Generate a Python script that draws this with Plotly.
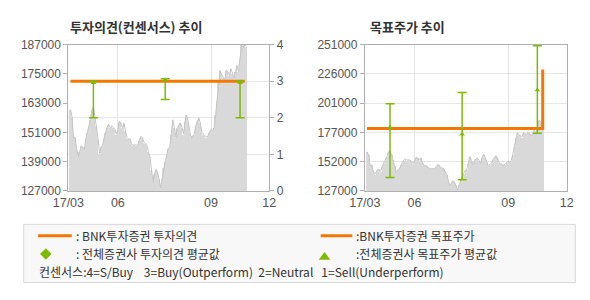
import plotly.graph_objects as go

# ---------------- data ----------------
price = [160400, 157500, 148500, 149000, 144500, 141000, 143100, 145500, 145100, 143800,
         148400, 151000, 153000, 156200, 160200, 161500, 157500, 153600, 148400, 142500,
         145100, 145700, 149000, 151000, 153000, 154300, 153000, 153600, 153000, 152300,
         150300, 152300, 155600, 154900, 153000, 154900, 151600, 149000, 148400, 148400,
         146400, 145700, 146000, 145700, 145700, 147700, 149400, 149000, 147000, 146600,
         145700, 143100, 141000, 135900, 130700, 134000, 135900, 134600, 132000, 128100,
         132000, 136600, 139200, 141800, 144500, 145100, 150300, 156200, 153000, 149000,
         153000, 154300, 154900, 153000, 150300, 155600, 158200, 155600, 151000, 148400,
         149700, 150300, 153600, 155600, 156900, 154900, 151000, 150300, 149700, 149000,
         149700, 151000, 152300, 151600, 153000, 158200, 164100, 172000, 176500, 174600,
         173300, 172600, 176500, 175900, 174600, 177200, 175200, 173300, 175900, 178500,
         175900, 181100, 187000, 185700, 187000, 186300]
day_idx = list(range(len(price)))

month_labels = ["17/03", "06", "09", "12"]
month_pos = [-1.4, 31.0, 92.0, 130.1]

# consensus (opinion) of all brokers
cons_x = [15, 62, 111]
cons_max = [3.0, 3.07, 3.0]
cons_mean = [2.96, 3.04, 2.96]
cons_min = [2.0, 2.5, 2.0]

# BNK opinion
bnk_op_x = [0, 114]
bnk_op = [3, 3]

# target price of all brokers
tgt_max = [201000, 210500, 250000]
tgt_mean = [181000, 175000, 212500]
tgt_min = [138500, 136500, 176000]

# BNK target price
bnk_tgt_x = [0, 114.5]
bnk_tgt = [180000, 230000]

left_price_ticks = [127000, 139000, 151000, 163000, 175000, 187000]
left_price_labels = ["127000", "139000", "151000", "163000", "175000", "187000"]
right_price_ticks = [127000, 151800, 176600, 201400, 226200, 251000]
right_price_labels = ["127000", "152000", "177000", "201000", "226000", "251000"]

# ---------------- styling ----------------
ORANGE = "#f47800"
GREEN = "#7dbb00"
BAR = "#d9d9d9"
LINE = "#c4c4c4"
AXIS = "#b0b0b0"
GRID = "#e6e6e6"
W, H = 590, 300
TICKFONT = dict(family="Liberation Sans, Arial, sans-serif", size=12, color="#555555")
KFONT = "Noto Sans CJK KR, sans-serif"


def px(x):
    return x / W


def py(y):
    return 1 - y / H


fig = go.Figure()

# ---- left chart: price + consensus ----
fig.add_trace(go.Bar(x=day_idx, y=price, marker=dict(color=BAR, line=dict(width=0)),
                     width=0.45, xaxis="x", yaxis="y", hoverinfo="skip"))
fig.add_trace(go.Scatter(x=day_idx, y=price, mode="lines", line=dict(color=LINE, width=1),
                         xaxis="x", yaxis="y", hoverinfo="skip"))
fig.add_trace(go.Scatter(x=bnk_op_x, y=bnk_op, mode="lines", line=dict(color=ORANGE, width=3),
                         xaxis="x", yaxis="y3"))
fig.add_trace(go.Scatter(
    x=cons_x, y=cons_mean, mode="markers",
    marker=dict(symbol="triangle-up", size=5, color=GREEN),
    error_y=dict(type="data", symmetric=False,
                 array=[a - m for a, m in zip(cons_max, cons_mean)],
                 arrayminus=[m - b for m, b in zip(cons_mean, cons_min)],
                 color=GREEN, thickness=1.5, width=4.5),
    xaxis="x", yaxis="y3"))

# ---- right chart: price + target ----
fig.add_trace(go.Bar(x=day_idx, y=price, marker=dict(color=BAR, line=dict(width=0)),
                     width=0.45, xaxis="x2", yaxis="y2", hoverinfo="skip"))
fig.add_trace(go.Scatter(x=day_idx, y=price, mode="lines", line=dict(color=LINE, width=1),
                         xaxis="x2", yaxis="y2", hoverinfo="skip"))
fig.add_trace(go.Scatter(x=bnk_tgt_x, y=bnk_tgt, mode="lines", line=dict(color=ORANGE, width=3, shape="hv"),
                         xaxis="x2", yaxis="y2"))
fig.add_trace(go.Scatter(
    x=cons_x, y=tgt_mean, mode="markers",
    marker=dict(symbol="triangle-up", size=5, color=GREEN),
    error_y=dict(type="data", symmetric=False,
                 array=[a - m for a, m in zip(tgt_max, tgt_mean)],
                 arrayminus=[m - b for m, b in zip(tgt_mean, tgt_min)],
                 color=GREEN, thickness=1.5, width=4.5),
    xaxis="x2", yaxis="y2"))

ydom = [py(193), py(39.5)]
xcommon = dict(range=[month_pos[0], month_pos[-1]], tickvals=month_pos, ticktext=month_labels,
               showgrid=True, gridcolor=GRID, gridwidth=1, showline=True, linecolor=AXIS,
               mirror=True, ticks="", tickfont=dict(TICKFONT, size=12.5), zeroline=False)
ycommon = dict(showline=True, linecolor=AXIS, ticks="outside", ticklen=4, tickcolor=AXIS,
               tickfont=TICKFONT, zeroline=False)

fig.update_layout(
    width=W, height=H, margin=dict(l=0, r=0, t=0, b=0),
    paper_bgcolor="white", plot_bgcolor="white", showlegend=False, bargap=0,
    xaxis=dict(xcommon, domain=[px(54.5), px(263.5)], anchor="y"),
    yaxis=dict(ycommon, domain=ydom, range=[127000, 187000], tickvals=left_price_ticks,
               ticktext=left_price_labels, showgrid=False, anchor="x"),
    yaxis3=dict(ycommon, overlaying="y", side="right", range=[0, 4], tickvals=[0, 1, 2, 3, 4],
                showgrid=True, gridcolor=GRID, anchor="x"),
    xaxis2=dict(xcommon, domain=[px(363), px(573)], anchor="y2"),
    yaxis2=dict(ycommon, domain=ydom, range=[127000, 251000], tickvals=right_price_ticks,
                ticktext=right_price_labels, showgrid=True, gridcolor=GRID, mirror=True, anchor="x2"),
)

annotations = [
    dict(text="<b>투자의견(컨센서스) 추이</b>", x=px(54), y=py(20)),
    dict(text="<b>목표주가 추이</b>", x=px(366), y=py(20)),
]
for a in annotations:
    a.update(xref="paper", yref="paper", xanchor="left", yanchor="middle", showarrow=False,
             font=dict(family=KFONT, size=13, color="#333333"))

legend_texts = [
    (": BNK투자증권 투자의견", 60, 240),
    (":BNK투자증권 목표주가", 352, 240),
    (": 전체증권사 투자의견 평균값", 60, 259),
    (":전체증권사 목표주가 평균값", 352, 259),
    ("컨센서스:4=S/Buy    3=Buy(Outperform)  2=Neutral   1=Sell(Underperform)", 22, 277),
]
for t, x, y in legend_texts:
    annotations.append(dict(text=t, x=px(x), y=py(y), xref="paper", yref="paper",
                            xanchor="left", yanchor="middle", showarrow=False,
                            font=dict(family=KFONT, size=12, color="#333333")))
fig.update_layout(annotations=annotations)

shapes = [
    dict(type="rect", xref="paper", yref="paper", x0=px(8), x1=px(582), y0=py(289), y1=py(228),
         fillcolor="#f8f8f8", line=dict(color="#d8d8d8", width=1), layer="below"),
    dict(type="line", xref="paper", yref="paper", x0=px(23), x1=px(58), y0=py(240), y1=py(240),
         line=dict(color=ORANGE, width=3)),
    dict(type="line", xref="paper", yref="paper", x0=px(317), x1=px(350), y0=py(240), y1=py(240),
         line=dict(color=ORANGE, width=3)),
    dict(type="path", xref="paper", yref="paper",
         path=f"M {px(25)},{py(259)} L {px(31)},{py(253)} L {px(37)},{py(259)} L {px(31)},{py(265)} Z",
         fillcolor=GREEN, line=dict(width=0)),
    dict(type="path", xref="paper", yref="paper",
         path=f"M {px(315)},{py(265)} L {px(321)},{py(257)} L {px(327)},{py(265)} Z",
         fillcolor=GREEN, line=dict(width=0)),
]
fig.update_layout(shapes=shapes)

fig.write_html("out.html")
